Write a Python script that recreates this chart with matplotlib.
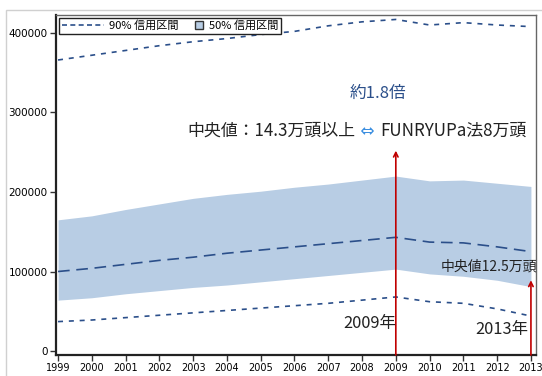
import matplotlib
matplotlib.use("Agg")
import matplotlib.pyplot as plt
from matplotlib.patches import Patch, Rectangle
from matplotlib.lines import Line2D
from matplotlib.legend_handler import HandlerPatch

plt.rcParams['font.family'] = ['Noto Sans CJK JP', 'DejaVu Sans']

years = list(range(1999, 2014))
median = [100000, 104000, 109000, 114000, 118000, 123000, 127000, 131000,
          135000, 139000, 143000, 137000, 136000, 131000, 125000]
ci50_upper = [165000, 170000, 178000, 185000, 192000, 197000, 201000, 206000,
              210000, 215000, 220000, 214000, 215000, 211000, 207000]
ci50_lower = [64000, 67000, 72000, 76000, 80000, 83000, 87000, 91000,
              95000, 99000, 103000, 97000, 94000, 89000, 81000]
ci90_upper = [366000, 372000, 378000, 384000, 389000, 393000, 398000, 402000,
              409000, 414000, 417000, 410000, 413000, 410000, 408000]
ci90_lower = [37000, 39000, 42000, 45000, 48000, 51000, 54000, 57000,
              60000, 64000, 68000, 62000, 60000, 53000, 44000]
yticks = [0, 100000, 200000, 300000, 400000]

dark_blue = '#2b4f8a'
band_blue = '#b8cde4'
red = '#c00000'
text_col = '#222222'

fig = plt.figure(figsize=(5.42, 3.76), dpi=100)
fig.patches.append(Rectangle((6 / 542, -0.1), 1.2, (376 - 10) / 376 + 0.1,
                             transform=fig.transFigure, fill=False,
                             edgecolor='#d0d0d0', linewidth=1.0))
ax = fig.add_axes([56 / 542, 21 / 376, 480 / 542, 340 / 376])

ax.fill_between(years, ci50_lower, ci50_upper, color=band_blue, linewidth=0)
ax.plot(years, median, color=dark_blue, linewidth=1.2, dashes=(7, 4))
ax.plot(years, ci90_upper, color=dark_blue, linewidth=1.2, dashes=(3, 3.5))
ax.plot(years, ci90_lower, color=dark_blue, linewidth=1.2, dashes=(3, 3.5))

ax.set_xlim(1998.94, 2013.15)
ax.set_ylim(-5000, 422600)
ax.set_xticks(years)
ax.set_xticklabels([str(y) for y in years], fontsize=7, family='DejaVu Sans')
ax.set_yticks(yticks)
ax.set_yticklabels([str(v) for v in yticks], fontsize=7.5, family='DejaVu Sans')
ax.tick_params(axis='both', length=4, width=1, color='#333333', pad=2)
for side in ['left', 'bottom']:
    ax.spines[side].set_color('#222222')
    ax.spines[side].set_linewidth(1.6)
for side in ['top', 'right']:
    ax.spines[side].set_color('#666666')
    ax.spines[side].set_linewidth(1.0)

# Red arrows marking 2009 and 2013
ax.annotate('', xy=(2009, 252000), xytext=(2009, -5000),
            arrowprops=dict(arrowstyle='->', color=red, lw=1.2,
                            shrinkA=0, shrinkB=0, mutation_scale=8))
ax.annotate('', xy=(2013, 89000), xytext=(2013, -5000),
            arrowprops=dict(arrowstyle='->', color=red, lw=1.2,
                            shrinkA=0, shrinkB=0, mutation_scale=8))

ax.text(2008.47, 324000, '約1.8倍', fontsize=12, color=dark_blue,
        ha='center', va='center')

# Comparison line: black text, blue double arrow, black text
fs_main = 12.2
t1 = ax.text(2002.82, 277000, '中央値：14.3万頭以上', fontsize=fs_main,
             color=text_col, ha='left', va='center')
t2 = ax.annotate(' ⇔ ', xy=(1, 0.5), xycoords=t1, fontsize=fs_main,
                 color='#3a8ee0', ha='left', va='center',
                 family=['DejaVu Sans'])
ax.annotate('FUNRYUPa法8万頭', xy=(1, 0.5), xycoords=t2, fontsize=fs_main,
            color=text_col, ha='left', va='center')

ax.text(2009.0, 34000, '2009年', fontsize=11.8, color=text_col,
        ha='right', va='center')
ax.text(2012.92, 27000, '2013年', fontsize=11.8, color=text_col,
        ha='right', va='center')
ax.text(2010.33, 106000, '中央値12.5万頭', fontsize=10, color=text_col,
        ha='left', va='center', clip_on=False)


def square_patch(legend, orig_handle, xdescent, ydescent, width, height,
                 fontsize):
    side = height * 1.0
    return Rectangle((-xdescent + width - side, -ydescent), side, side)


handles = [Line2D([0], [0], color=dark_blue, linewidth=1.2, dashes=(3, 2)),
           Patch(facecolor=band_blue, edgecolor='#333333', linewidth=1.0)]
leg = ax.legend(handles, ['90% 信用区間', '50% 信用区間'], loc='upper left',
                ncol=2, fontsize=8, frameon=True, fancybox=False,
                edgecolor='#222222', borderpad=0.25, handlelength=3.8,
                handletextpad=0.5, columnspacing=-1.6,
                handler_map={Patch: HandlerPatch(patch_func=square_patch)},
                bbox_to_anchor=(0.0, 1.0), borderaxespad=0.25)
leg.get_frame().set_linewidth(1.0)
leg.get_frame().set_alpha(1)

fig.savefig('out.png', dpi=100)
